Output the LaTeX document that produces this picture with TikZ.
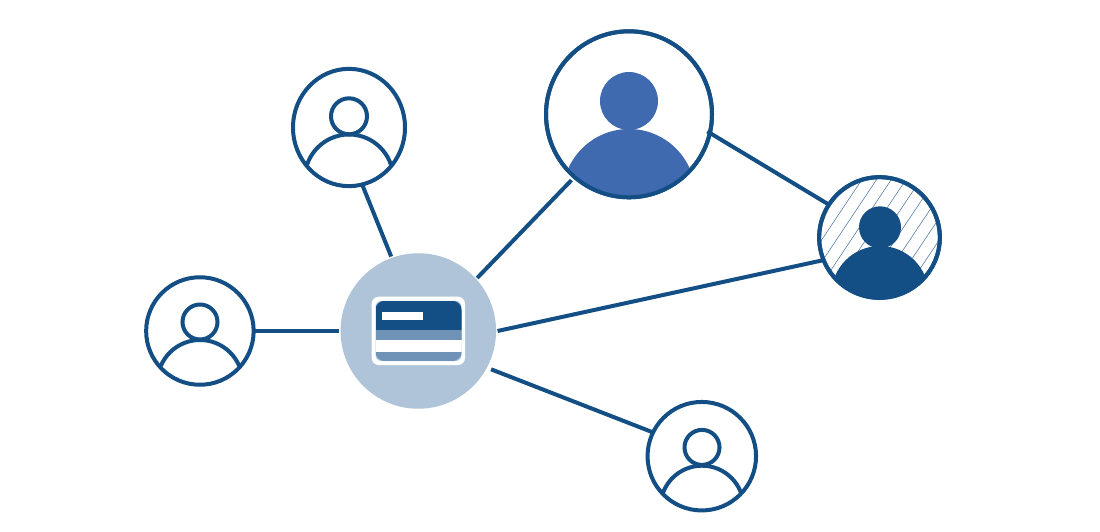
\documentclass[tikz,border=0pt]{standalone}
\usetikzlibrary{shapes.geometric}
\definecolor{navy}{HTML}{134F85}
\definecolor{royal}{HTML}{3F6AB0}
\definecolor{hubblue}{HTML}{AFC4D8}
\definecolor{midblue}{HTML}{6E93B7}
\tikzset{
  person/.style={circle,draw=navy,fill=white,line width=4pt,inner sep=0pt,outer sep=0pt},
  personoval/.style={ellipse,draw=navy,fill=white,line width=4pt,inner sep=0pt,outer sep=0pt},
  hubnode/.style={circle,fill=hubblue,inner sep=0pt,outer sep=1.5pt,minimum size=155.5pt},
  link/.style={draw=navy,line width=4pt},
  outline/.style={draw=navy,line width=4pt},
  hatchline/.style={draw=navy!75,line width=0.55pt}
}
\newcommand{\outlineperson}[8]{% name cx headcy headR bodycy bodyR clipRx clipRy
  \begin{scope}
    \clip (#1) ellipse (#7pt and #8pt);
    \draw[outline] (#2,#5) circle (#6pt);
  \end{scope}
  \draw[outline,fill=white] (#2,#3) circle (#4pt);
}
\begin{document}
\begin{tikzpicture}[x=1pt,y=-1pt]
\useasboundingbox (0,0) rectangle (1100,532);
\fill[white] (0,0) rectangle (1100,532);
% nodes
\node[hubnode] (hub) at (418.3,331) {};
\node[person,minimum size=107.5pt] (left) at (199.9,331) {};
\node[personoval,minimum width=112pt,minimum height=117.3pt] (topleft) at (349,127.5) {};
\node[person,minimum size=166pt] (big) at (629,114.3) {};
\node[person,minimum size=120.7pt] (hatched) at (879.5,237.5) {};
\node[person,minimum size=108.5pt] (bottom) at (701.8,456.2) {};
% connectors
\draw[link] (left.0) -- (hub.180);
\draw[link] (hub.110) -- (topleft.-77);
\draw[link,shorten >=4.5pt] (hub.42) -- (big.229);
\draw[link,shorten <=3pt] (hub.-28.7) -- (bottom.154.4);
\draw[link] (hub.0) -- (hatched.202.5);
\draw[link,shorten <=-3pt] (big.-13.5) -- (hatched.147.9);
% outline people
\outlineperson{left}{200}{322}{17.5}{382.6}{42.6}{53.7}{53.7}
\outlineperson{topleft}{349}{116.3}{18}{178.7}{44.2}{56}{58.6}
\outlineperson{bottom}{702}{447.4}{17.5}{507.3}{41.6}{54.2}{54.2}
% big solid person
\begin{scope}
  \clip (big) circle (83pt);
  \fill[royal] (629,195.4) circle (66.4pt);
\end{scope}
\fill[royal] (629,101) circle (29pt);
\draw[navy,line width=4pt] (big) circle (83pt);
% hatched person
\begin{scope}
  \clip (hatched) circle (60.3pt);
  \foreach \i in {-6,...,6} {
    \draw[hatchline] ({893.7+\i*14.7+40},138) -- ({893.7+\i*14.7-80},318);
  }
  \fill[navy] (880,294.6) circle (48.6pt);
\end{scope}
\fill[navy] (880,227.3) circle (21pt);
\draw[navy,line width=4pt] (hatched) circle (60.3pt);
% card
\fill[white,rounded corners=7pt] (371.7,296.7) rectangle (465,365);
\fill[hubblue,rounded corners=6pt] (375.5,300.8) rectangle (461.5,361);
\begin{scope}
  \clip[rounded corners=9pt] (375.5,300.8) rectangle (461.5,361);
  \fill[navy] (375.5,300.8) rectangle (461.5,330);
  \fill[midblue] (375.5,330) rectangle (461.5,339.5);
  \fill[white] (375.5,339.5) rectangle (461.5,352);
  \fill[midblue] (375.5,352) rectangle (461.5,361);
\end{scope}
\fill[white] (382,312) rectangle (422.5,320);
\end{tikzpicture}
\end{document}
